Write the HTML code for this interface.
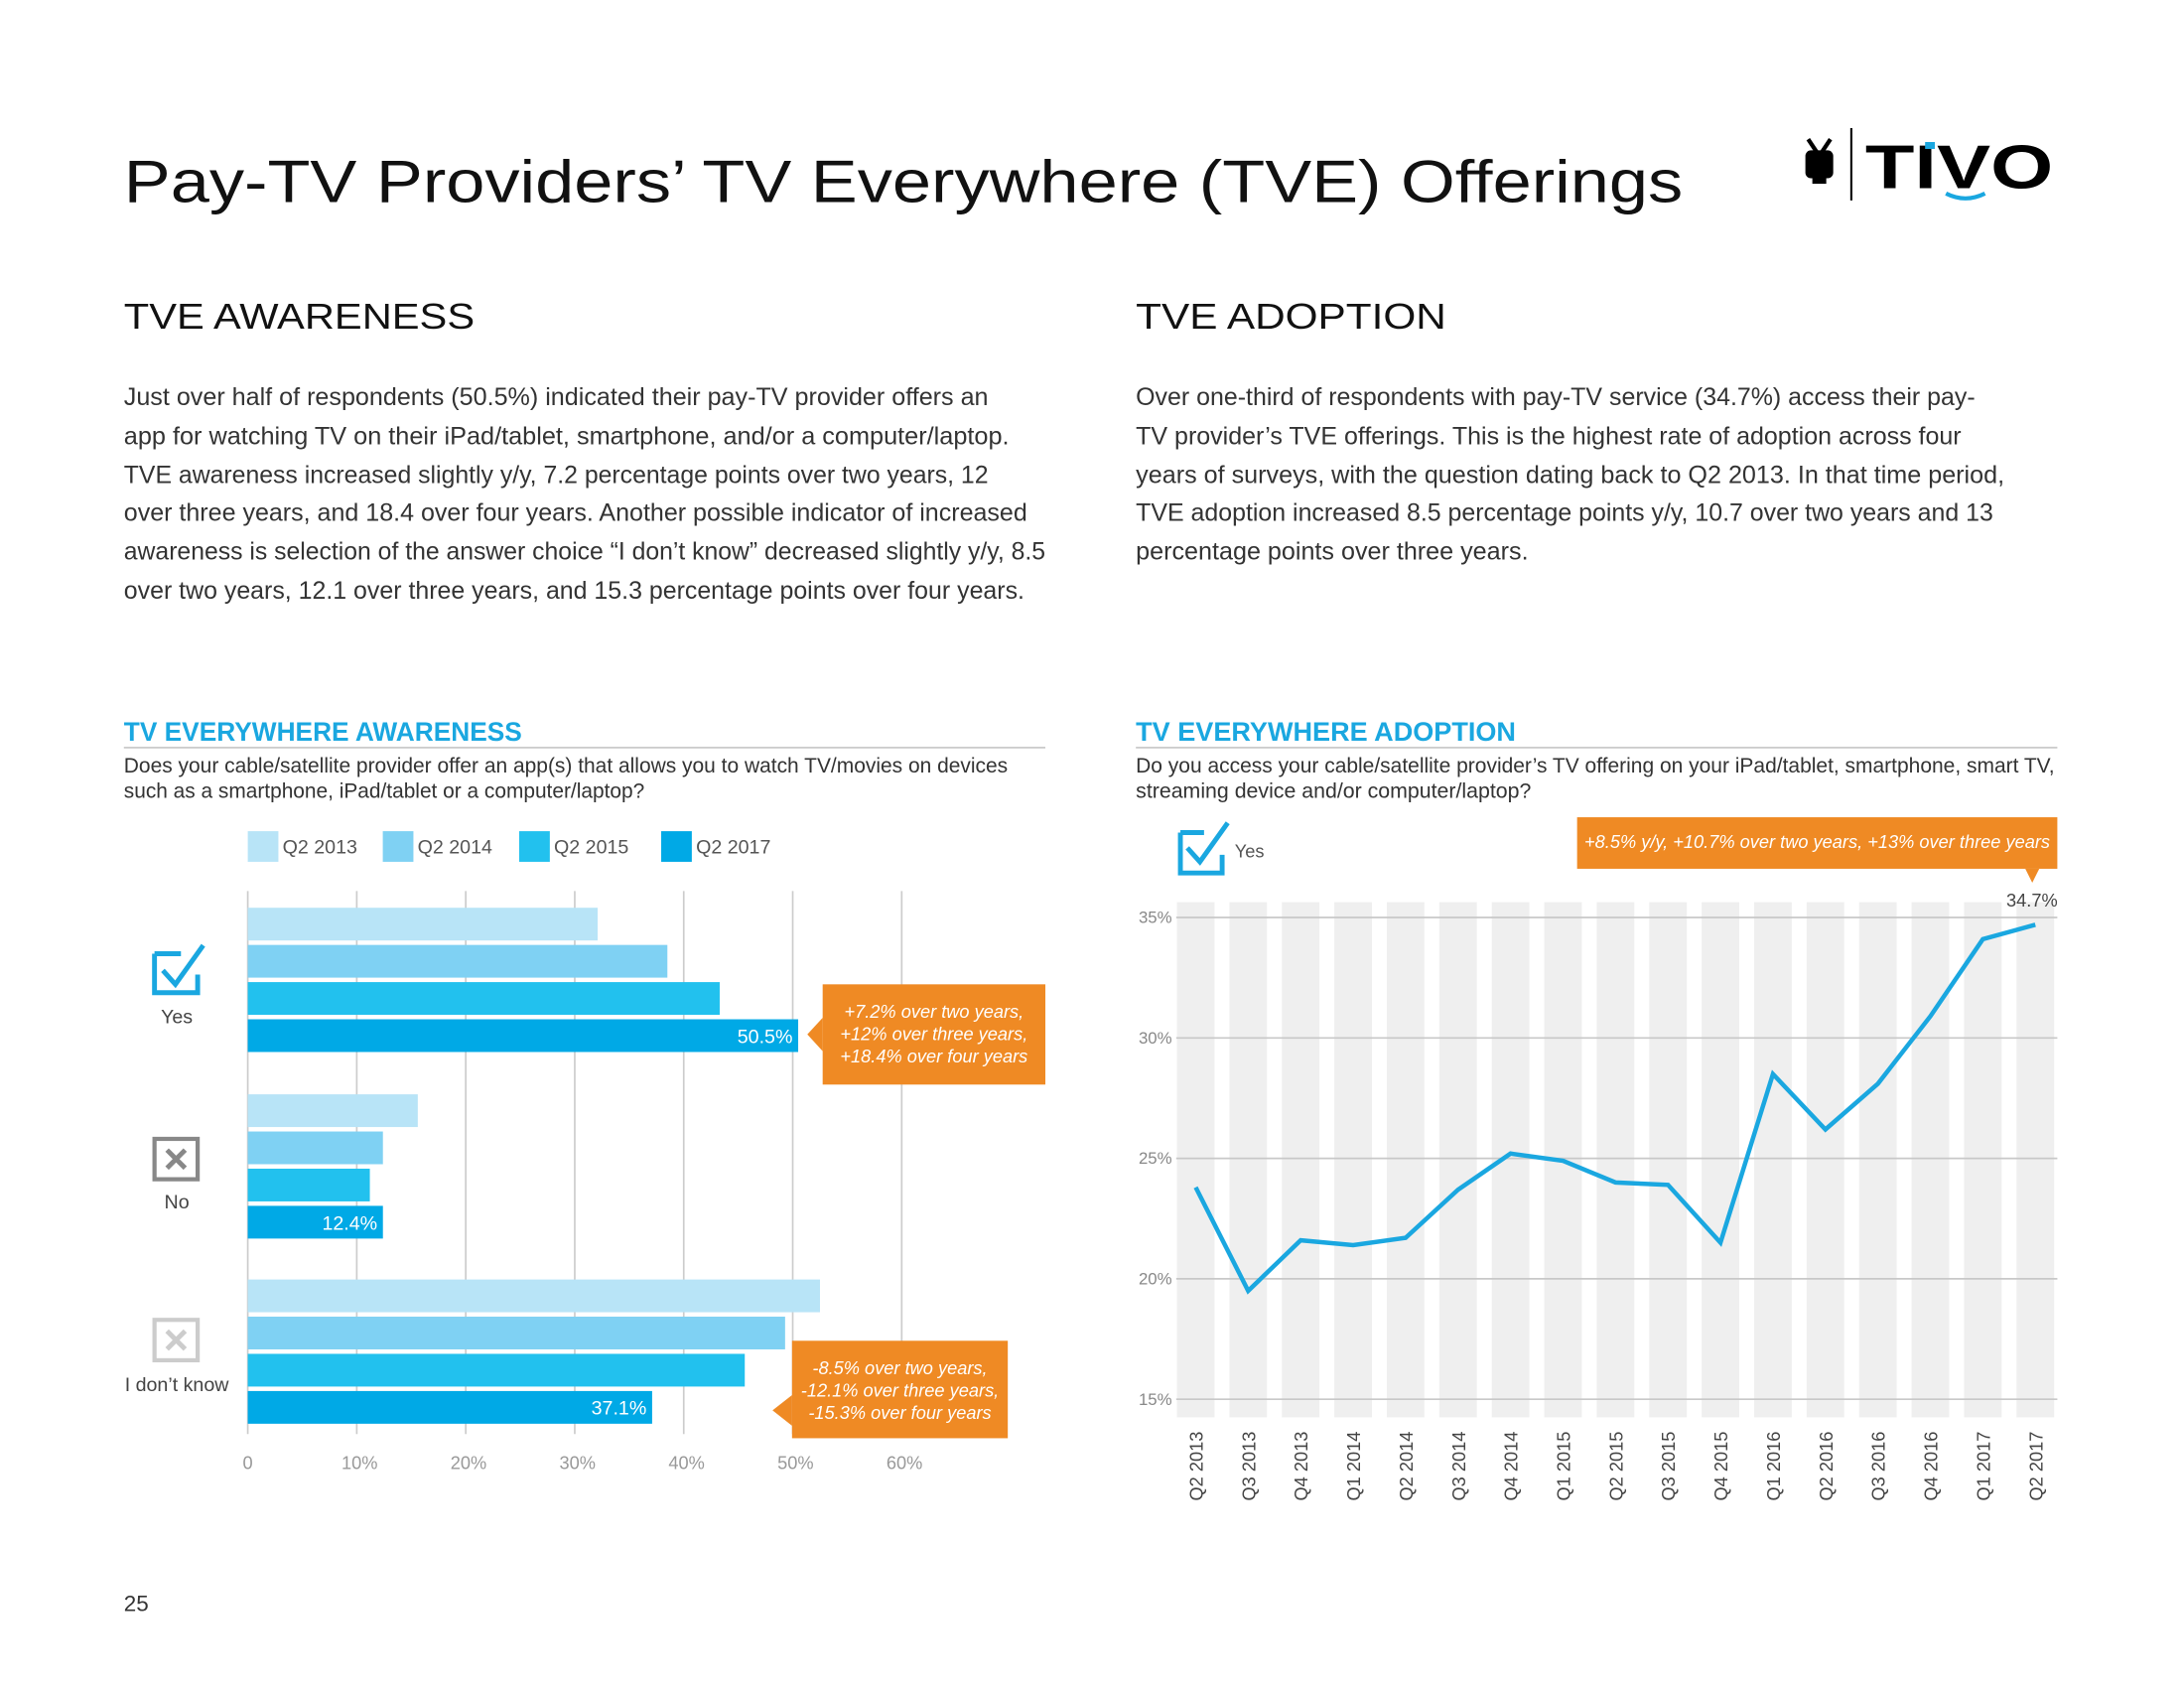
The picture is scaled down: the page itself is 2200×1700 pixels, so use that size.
<!DOCTYPE html>
<html><head><meta charset="utf-8"><style>
html,body{margin:0;padding:0;background:#fff;}
svg{display:block;font-family:"Liberation Sans",sans-serif;}
</style></head><body>
<svg id="root" width="2200" height="1700" viewBox="0 0 1569 1212" preserveAspectRatio="xMinYMin meet" xmlns="http://www.w3.org/2000/svg">
<rect width="1569" height="1212" fill="#fff"/>
<text x="89" y="145" font-size="43" fill="#111" textLength="1120" lengthAdjust="spacingAndGlyphs">Pay-TV Providers’ TV Everywhere (TVE) Offerings</text>
<g>
<rect x="1297" y="108" width="20" height="20" rx="4" fill="#000"/>
<line x1="1299" y1="100" x2="1305" y2="109" stroke="#000" stroke-width="3"/>
<line x1="1315" y1="100" x2="1309" y2="109" stroke="#000" stroke-width="3"/>
<rect x="1302" y="128" width="10" height="4" fill="#000"/>
<line x1="1330" y1="92" x2="1330" y2="144" stroke="#000" stroke-width="1.5"/>
<text x="1340" y="135" font-size="44" font-weight="bold" fill="#000" textLength="135" lengthAdjust="spacingAndGlyphs">TIVO</text>
<rect x="1383" y="102" width="7" height="5" fill="#1aa7e0"/>
<path d="M1398 139 Q1412 146 1426 139" stroke="#1aa7e0" stroke-width="3" fill="none"/>
</g>
<text x="89" y="236" font-size="26" fill="#111" textLength="252" lengthAdjust="spacingAndGlyphs">TVE AWARENESS</text>
<text x="816" y="236" font-size="26" fill="#111" textLength="223" lengthAdjust="spacingAndGlyphs">TVE ADOPTION</text>
<g font-size="17.5" fill="#333">
<text x="89" y="291" textLength="621" lengthAdjust="spacingAndGlyphs">Just over half of respondents (50.5%) indicated their pay-TV provider offers an</text>
<text x="89" y="319" textLength="636" lengthAdjust="spacingAndGlyphs">app for watching TV on their iPad/tablet, smartphone, and/or a computer/laptop.</text>
<text x="89" y="347" textLength="621" lengthAdjust="spacingAndGlyphs">TVE awareness increased slightly y/y, 7.2 percentage points over two years, 12</text>
<text x="89" y="374" textLength="649" lengthAdjust="spacingAndGlyphs">over three years, and 18.4 over four years. Another possible indicator of increased</text>
<text x="89" y="402" textLength="662" lengthAdjust="spacingAndGlyphs">awareness is selection of the answer choice “I don’t know” decreased slightly y/y, 8.5</text>
<text x="89" y="430" textLength="647" lengthAdjust="spacingAndGlyphs">over two years, 12.1 over three years, and 15.3 percentage points over four years.</text>
</g>
<g font-size="17.5" fill="#333">
<text x="816" y="291" textLength="603" lengthAdjust="spacingAndGlyphs">Over one-third of respondents with pay-TV service (34.7%) access their pay-</text>
<text x="816" y="319" textLength="593" lengthAdjust="spacingAndGlyphs">TV provider’s TVE offerings. This is the highest rate of adoption across four</text>
<text x="816" y="347" textLength="624" lengthAdjust="spacingAndGlyphs">years of surveys, with the question dating back to Q2 2013. In that time period,</text>
<text x="816" y="374" textLength="616" lengthAdjust="spacingAndGlyphs">TVE adoption increased 8.5 percentage points y/y, 10.7 over two years and 13</text>
<text x="816" y="402" textLength="282" lengthAdjust="spacingAndGlyphs">percentage points over three years.</text>
</g>
<text x="89" y="532" font-size="19" font-weight="bold" fill="#1aa7e0" textLength="286" lengthAdjust="spacingAndGlyphs">TV EVERYWHERE AWARENESS</text>
<line x1="89" y1="537" x2="751" y2="537" stroke="#bbb" stroke-width="1"/>
<text x="89" y="555" font-size="15" fill="#333" textLength="635" lengthAdjust="spacingAndGlyphs">Does your cable/satellite provider offer an app(s) that allows you to watch TV/movies on devices</text>
<text x="89" y="573" font-size="15" fill="#333" textLength="374" lengthAdjust="spacingAndGlyphs">such as a smartphone, iPad/tablet or a computer/laptop?</text>
<text x="816" y="532" font-size="19" font-weight="bold" fill="#1aa7e0" textLength="273" lengthAdjust="spacingAndGlyphs">TV EVERYWHERE ADOPTION</text>
<line x1="816" y1="537" x2="1478" y2="537" stroke="#bbb" stroke-width="1"/>
<text x="816" y="555" font-size="15" fill="#333" textLength="660" lengthAdjust="spacingAndGlyphs">Do you access your cable/satellite provider’s TV offering on your iPad/tablet, smartphone, smart TV,</text>
<text x="816" y="573" font-size="15" fill="#333" textLength="284" lengthAdjust="spacingAndGlyphs">streaming device and/or computer/laptop?</text>
<g id="barchart"></g>
<g id="linechart"></g>
<text x="89" y="1157" font-size="16" fill="#333">25</text>
</svg>
<script>
// Bar chart data
const barCategories = ["Yes", "No", "I don't know"];
const barSeriesNames = ["Q2 2013", "Q2 2014", "Q2 2015", "Q2 2017"];
const barQ22013 = [32.1, 15.6, 52.5];
const barQ22014 = [38.5, 12.4, 49.3];
const barQ22015 = [43.3, 11.2, 45.6];
const barQ22017 = [50.5, 12.4, 37.1];
const barTicks = [0, 10, 20, 30, 40, 50, 60];
const barTickLabels = ["0", "10%", "20%", "30%", "40%", "50%", "60%"];
// Line chart data
const lineCategories = ["Q2 2013","Q3 2013","Q4 2013","Q1 2014","Q2 2014","Q3 2014","Q4 2014","Q1 2015","Q2 2015","Q3 2015","Q4 2015","Q1 2016","Q2 2016","Q3 2016","Q4 2016","Q1 2017","Q2 2017"];
const lineValues = [23.8, 19.5, 21.6, 21.4, 21.7, 23.7, 25.2, 24.9, 24.0, 23.9, 21.5, 28.5, 26.2, 28.1, 30.9, 34.1, 34.7];
const lineTicks = [15, 20, 25, 30, 35];
const lineTickLabels = ["15%", "20%", "25%", "30%", "35%"];

const NS = "http://www.w3.org/2000/svg";
function mk(parent, tag, attrs, text) {
  const e = document.createElementNS(NS, tag);
  for (const k in attrs) e.setAttribute(k, attrs[k]);
  if (text !== undefined) e.textContent = text;
  parent.appendChild(e);
  return e;
}
const colors = ["#b8e4f7", "#7fd1f3", "#22c1ee", "#00a9e6"];

// ---- bar chart ----
const bc = document.getElementById("barchart");
const bx = v => 178 + v * 7.83;
const series = [barQ22013, barQ22014, barQ22015, barQ22017];
barTicks.forEach((t, i) => {
  const l = mk(bc, "line", {x1: bx(t), x2: bx(t), y1: 640, y2: 1030, stroke: "#ccc", "stroke-width": 1.2});
  
  
  const tx = mk(bc, "text", {x: bx(t) + (i === 0 ? 0 : 2), y: 1055, "font-size": 13, fill: "#999", "text-anchor": "middle"}, barTickLabels[i]);
  
  
});
// legend
const legX = [178, 275, 373, 475];
barSeriesNames.forEach((n, i) => {
  const r = mk(bc, "rect", {x: legX[i], y: 597, width: 22, height: 22, fill: colors[i]});
  
  
  const t = mk(bc, "text", {x: legX[i] + 25, y: 613, "font-size": 14, fill: "#555"}, n);
  
  
});
const groupTop = [652, 786, 919];
barCategories.forEach((c, gi) => {
  series.forEach((s, si) => {
    const y = groupTop[gi] + si * 26.7;
    const r = mk(bc, "rect", {x: bx(0), y: y, width: bx(s[gi]) - bx(0), height: 23.5, fill: colors[si]});
    
    
    if (si === 3) {
      const t = mk(bc, "text", {x: bx(s[gi]) - 4, y: y + 17, "font-size": 14, fill: "#fff", "text-anchor": "end"}, s[gi].toFixed(1) + "%");
      
      
    }
  });
  const lab = mk(bc, "text", {x: 127, y: [735, 868, 999][gi], "font-size": 14, fill: "#444", "text-anchor": "middle"}, c === "I don't know" ? "I don’t know" : c);
  
  
});
// icons
mk(bc, "path", {d: "M111 685 H130 M111 685 V713 H142 V700 M117 697 L126 707 L146 679", stroke: "#1aa7e0", "stroke-width": 3.5, fill: "none"});
mk(bc, "rect", {x: 111, y: 818, width: 31, height: 29, fill: "none", stroke: "#888", "stroke-width": 3});
mk(bc, "path", {d: "M120 826 L133 839 M133 826 L120 839", stroke: "#888", "stroke-width": 3.5});
mk(bc, "rect", {x: 111, y: 948, width: 31, height: 29, fill: "none", stroke: "#ccc", "stroke-width": 3});
mk(bc, "path", {d: "M120 956 L133 969 M133 956 L120 969", stroke: "#ccc", "stroke-width": 3.5});
// callouts
function callout(g, x, y, w, h, ax, ay, lines, name) {
  const grp = mk(g, "g", {});
  
  
  mk(grp, "rect", {x: x, y: y, width: w, height: h, fill: "#ef8a24"});
  mk(grp, "path", {d: ax, fill: "#ef8a24"});
  lines.forEach((l, i) => mk(grp, "text", {x: x + w / 2, y: y + ay + i * 16, "font-size": 13, "font-style": "italic", fill: "#fff", "text-anchor": "middle"}, l));
}
callout(bc, 591, 707, 160, 72, "M591 731 L580 743 L591 755 Z", 24, ["+7.2% over two years,", "+12% over three years,", "+18.4% over four years"], "yes-callout");
callout(bc, 569, 963, 155, 70, "M569 1002 L555 1013 L569 1024 Z", 24, ["-8.5% over two years,", "-12.1% over three years,", "-15.3% over four years"], "idk-callout");

// ---- line chart ----
const lc = document.getElementById("linechart");
const lx = i => 859 + i * 37.7;
const ly = v => 659 + (35 - v) * 17.3;
lineCategories.forEach((c, i) => {
  const r = mk(lc, "rect", {x: lx(i) - 13.5, y: 648, width: 27, height: 370, fill: "#efefef"});
  
  
  const t = mk(lc, "text", {transform: `translate(${lx(i) + 5},1078) rotate(-90)`, "font-size": 13, fill: "#444"}, c);
  
  
});
lineTicks.forEach((t, i) => {
  const l = mk(lc, "line", {x1: 845, x2: 1478, y1: ly(t), y2: ly(t), stroke: "#c8c8c8", "stroke-width": 1.2});
  
  
  const tx = mk(lc, "text", {x: 842, y: ly(t) + 4, "font-size": 12, fill: "#888", "text-anchor": "end"}, lineTickLabels[i]);
  
  
});
const pts = lineValues.map((v, i) => lx(i) + "," + ly(v)).join(" ");
const pl = mk(lc, "polyline", {points: pts, fill: "none", stroke: "#1aa7e0", "stroke-width": 3.2, "stroke-linejoin": "miter"});


const last = lineValues.length - 1;
const vl = mk(lc, "text", {x: lx(last) + 16, y: ly(lineValues[last]) - 13, "font-size": 13, fill: "#444", "text-anchor": "end"}, lineValues[last].toFixed(1) + "%");


mk(lc, "path", {d: "M848 598 H865 M848 598 V627 H878 V614 M853 609 L862 619 L882 591", stroke: "#1aa7e0", "stroke-width": 3.5, fill: "none"});
const ylab = mk(lc, "text", {x: 887, y: 616, "font-size": 13, fill: "#555"}, "Yes");


callout(lc, 1133, 587, 345, 37, "M1455 624 L1465 624 L1460 634 Z", 22, ["+8.5% y/y, +10.7% over two years, +13% over three years"], "adoption-callout");
</script>
</body></html>
